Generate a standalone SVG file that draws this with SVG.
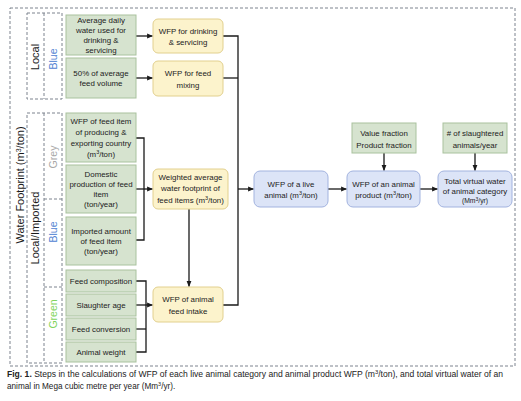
<svg xmlns="http://www.w3.org/2000/svg" width="521" height="401" viewBox="0 0 521 401">
<defs>
<marker id="ah" viewBox="0 0 10 10" refX="9" refY="5" markerWidth="6" markerHeight="6" markerUnits="userSpaceOnUse" orient="auto"><path d="M0,1 L10,5 L0,9 z" fill="#1a1a1a"/></marker>
<style>
.g{fill:#d6e3cf;stroke:#a9c29e;stroke-width:1}
.y{fill:#fcf3cc;stroke:#e2d08e;stroke-width:1}
.b{fill:#dce4f7;stroke:#a2b3df;stroke-width:1}
.dash{fill:none;stroke:#7d838e;stroke-width:1;stroke-dasharray:3,2}
.t{font-family:"Liberation Sans",Arial,sans-serif;font-size:7.9px;fill:#222;text-anchor:middle}
.lab{font-family:"Liberation Sans",Arial,sans-serif;text-anchor:middle}
.c{fill:none;stroke:#1a1a1a;stroke-width:1.3}
.cap{font-family:"Liberation Sans",Arial,sans-serif;font-size:8.2px;fill:#222}
</style>
</defs>
<rect width="521" height="401" fill="#fff"/>
<g id="frames">
<rect class="dash" x="10" y="8" width="505" height="358"/>
<rect class="dash" x="27" y="13" width="35" height="86"/>
<line class="dash" x1="44" y1="13" x2="44" y2="99"/>
<rect class="dash" x="27" y="113" width="35" height="250"/>
<line class="dash" x1="44" y1="113" x2="44" y2="363"/>
<line class="dash" x1="44" y1="199" x2="62" y2="199"/>
<line class="dash" x1="44" y1="287" x2="62" y2="287"/>
</g>
<g id="axis-labels">
<text class="lab" font-size="11" fill="#1a1a1a" transform="translate(24,185) rotate(-90)">Water Footprint (m<tspan dy="-3.5" font-size="7">3</tspan><tspan dy="3.5">/ton)</tspan></text>
<text class="lab" font-size="11" fill="#1a1a1a" transform="translate(38.5,228) rotate(-90)">Local/Imported</text>
<text class="lab" font-size="11" fill="#1a1a1a" transform="translate(39,57) rotate(-90)">Local</text>
<text class="lab" font-size="10.5" fill="#4f82d2" transform="translate(57,59) rotate(-90)">Blue</text>
<text class="lab" font-size="10.5" fill="#a8a8a8" transform="translate(57,157) rotate(-90)">Grey</text>
<text class="lab" font-size="10.5" fill="#4f82d2" transform="translate(57,232) rotate(-90)">Blue</text>
<text class="lab" font-size="10.5" fill="#7fd45c" transform="translate(57,314) rotate(-90)">Green</text>
</g>
<g id="connectors">
<line class="c" x1="136" y1="36" x2="152.5" y2="36" marker-end="url(#ah)"/>
<line class="c" x1="136" y1="78" x2="152.5" y2="78" marker-end="url(#ah)"/>
<polyline class="c" points="136,138 144,138 144,240 136,240"/>
<line class="c" x1="136" y1="189" x2="152.5" y2="189" marker-end="url(#ah)"/>
<polyline class="c" points="136,281 146,281 146,352 136,352"/>
<line class="c" x1="136" y1="329" x2="146" y2="329"/>
<line class="c" x1="136" y1="305" x2="152.5" y2="305" marker-end="url(#ah)"/>
<line class="c" x1="189" y1="209" x2="189" y2="286.5" marker-end="url(#ah)"/>
<polyline class="c" points="223,36 238,36 238,305 223,305"/>
<line class="c" x1="223" y1="78" x2="238" y2="78"/>
<line class="c" x1="238" y1="189" x2="253.5" y2="189" marker-end="url(#ah)"/>
<line class="c" x1="328" y1="189" x2="346.5" y2="189" marker-end="url(#ah)"/>
<line class="c" x1="420" y1="189" x2="437.5" y2="189" marker-end="url(#ah)"/>
<line class="c" x1="384" y1="153" x2="384" y2="170.5" marker-end="url(#ah)"/>
<line class="c" x1="475" y1="153" x2="475" y2="170.5" marker-end="url(#ah)"/>
</g>
<g id="n-avg-daily"><rect class="g" x="66" y="15" width="70" height="40"/><text class="t"><tspan x="101" y="22.7">Average daily</tspan><tspan x="101" y="32.7">water used for</tspan><tspan x="101" y="42.7">drinking &amp;</tspan><tspan x="101" y="52.7">servicing</tspan></text></g>
<g id="n-feed-volume"><rect class="g" x="66" y="58" width="70" height="40"/><text class="t"><tspan x="101" y="75.7">50% of average</tspan><tspan x="101" y="85.7">feed volume</tspan></text></g>
<g id="n-wfp-feed-item"><rect class="g" x="66" y="113" width="70" height="49"/><text class="t"><tspan x="101" y="123.7">WFP of feed item</tspan><tspan x="101" y="134.7">of producing &amp;</tspan><tspan x="101" y="145.7">exporting country</tspan><tspan x="101" y="156.7">(m<tspan dy="-3" font-size="5.5">3</tspan><tspan dy="3">/ton)</tspan></tspan></text></g>
<g id="n-domestic"><rect class="g" x="66" y="165" width="70" height="48"/><text class="t"><tspan x="101" y="176.7">Domestic</tspan><tspan x="101" y="186.7">production of feed</tspan><tspan x="101" y="196.7">item</tspan><tspan x="101" y="206.7">(ton/year)</tspan></text></g>
<g id="n-imported"><rect class="g" x="66" y="217" width="70" height="48"/><text class="t"><tspan x="101" y="233.7">Imported amount</tspan><tspan x="101" y="243.7">of feed item</tspan><tspan x="101" y="253.7">(ton/year)</tspan></text></g>
<g id="n-feed-comp"><rect class="g" x="66" y="270" width="70" height="22"/><text class="t" x="101" y="283.7">Feed composition</text></g>
<g id="n-slaughter-age"><rect class="g" x="66" y="294" width="70" height="22"/><text class="t" x="101" y="307.7">Slaughter age</text></g>
<g id="n-feed-conv"><rect class="g" x="66" y="318" width="70" height="22"/><text class="t" x="101" y="331.7">Feed conversion</text></g>
<g id="n-animal-weight"><rect class="g" x="66" y="342" width="70" height="20"/><text class="t" x="101" y="354.7">Animal weight</text></g>
<g id="n-wfp-drinking"><rect class="y" x="153" y="19" width="70" height="34" rx="5"/><text class="t"><tspan x="188" y="33.7">WFP for drinking</tspan><tspan x="188" y="45.2">&amp; servicing</tspan></text></g>
<g id="n-wfp-mixing"><rect class="y" x="153" y="61" width="70" height="35" rx="5"/><text class="t"><tspan x="188" y="75.7">WFP for feed</tspan><tspan x="188" y="87.7">mixing</tspan></text></g>
<g id="n-weighted"><rect class="y" x="153" y="169" width="75" height="40" rx="5"/><text class="t"><tspan x="190.5" y="179.7">Weighted average</tspan><tspan x="190.5" y="191.2">water footprint of</tspan><tspan x="190.5" y="202.7">feed items (m<tspan dy="-3" font-size="5.5">3</tspan><tspan dy="3">/ton)</tspan></tspan></text></g>
<g id="n-feed-intake"><rect class="y" x="153" y="287" width="70" height="35" rx="5"/><text class="t"><tspan x="188" y="301.7">WFP of animal</tspan><tspan x="188" y="314.2">feed intake</tspan></text></g>
<g id="n-live-animal"><rect class="b" x="254" y="171" width="74" height="36" rx="6"/><text class="t"><tspan x="291" y="186.7">WFP of a live</tspan><tspan x="291" y="197.7">animal (m<tspan dy="-3" font-size="5.5">3</tspan><tspan dy="3">/ton)</tspan></tspan></text></g>
<g id="n-value-fraction"><rect class="g" x="352" y="123" width="64" height="30"/><text class="t"><tspan x="384" y="135.7">Value fraction</tspan><tspan x="384" y="147.7">Product fraction</tspan></text></g>
<g id="n-product"><rect class="b" x="347" y="171" width="73" height="36" rx="6"/><text class="t"><tspan x="383.5" y="186.7">WFP of an animal</tspan><tspan x="383.5" y="197.7">product (m<tspan dy="-3" font-size="5.5">3</tspan><tspan dy="3">/ton)</tspan></tspan></text></g>
<g id="n-slaughtered"><rect class="g" x="443" y="123" width="64" height="30"/><text class="t"><tspan x="475" y="135.7"># of slaughtered</tspan><tspan x="475" y="147.7">animals/year</tspan></text></g>
<g id="n-total"><rect class="b" x="438" y="171" width="74" height="36" rx="6"/><text class="t"><tspan x="475" y="183.5">Total virtual water</tspan><tspan x="475" y="193.5">of animal category</tspan><tspan x="475" y="203" font-size="6.8">(Mm<tspan dy="-2.5" font-size="5">3</tspan><tspan dy="2.5">/yr)</tspan></tspan></text></g>
<g id="caption">
<text class="cap" x="7" y="377" textLength="496" lengthAdjust="spacingAndGlyphs"><tspan font-weight="bold">Fig. 1.</tspan> Steps in the calculations of WFP of each live animal category and animal product WFP (m<tspan dy="-3" font-size="5.5">3</tspan><tspan dy="3">/ton), and total virtual water of an</tspan></text>
<text class="cap" x="7" y="388.5">animal in Mega cubic metre per year (Mm<tspan dy="-3" font-size="5.5">3</tspan><tspan dy="3">/yr).</tspan></text>
</g>
</svg>
